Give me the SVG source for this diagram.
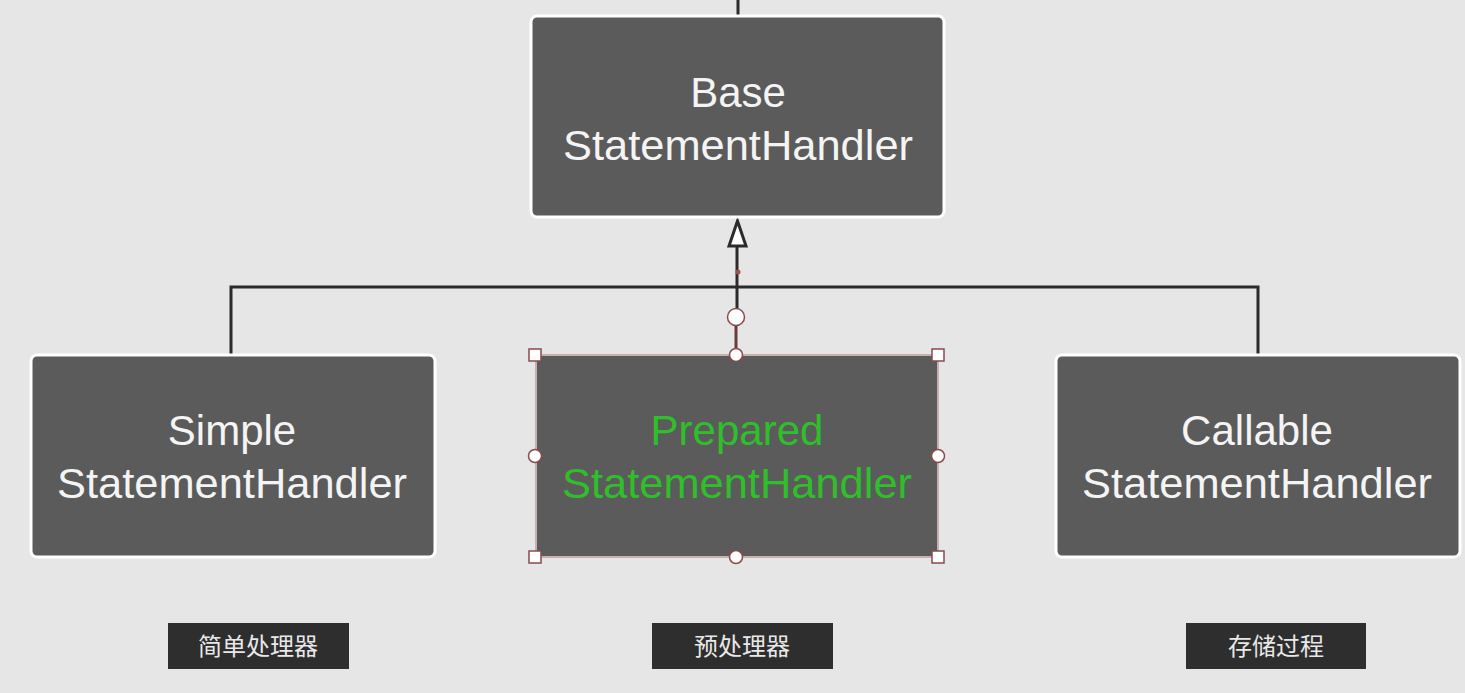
<svg xmlns="http://www.w3.org/2000/svg" width="1465" height="693" viewBox="0 0 1465 693">
<defs>
<style>
.box{fill:#5b5b5b;stroke:#ffffff;stroke-width:3}
.t{font-family:"Liberation Sans","Noto Sans",Arial,sans-serif;font-size:42px;fill:#f4f4f4;text-anchor:middle}
.g{fill:#2fbf2a}
.lbl{fill:#2e2e2e}
.lt{font-family:"Noto Sans CJK SC","Noto Sans",sans-serif;font-size:24px;fill:#e8e8e8;text-anchor:middle}
.ln{stroke:#2b2b2b;stroke-width:3;fill:none}
.h{fill:#ffffff;stroke:#8a4a4a;stroke-width:1.5}
</style>
</defs>
<rect width="1465" height="693" fill="#e6e6e6"/>
<g id="connectors">
<line class="ln" x1="738" y1="0" x2="738" y2="16"/>
<polyline class="ln" points="231,354 231,287 1258,287 1258,354"/>
<line class="ln" x1="737" y1="317" x2="737" y2="246"/>
<path d="M737.5,221 L746,246 L729,246 Z" fill="#ffffff" stroke="#2b2b2b" stroke-width="3"/>
<line x1="736" y1="325" x2="736" y2="350" stroke="#6a3a3a" stroke-width="3"/>
<circle cx="738" cy="272" r="2.5" fill="#9a5050"/>
</g>
<g id="base">
<rect class="box" x="531" y="16" width="413" height="201" rx="6"/>
<text class="t" x="738" y="107">Base</text>
<text class="t" x="738" y="160" textLength="350" lengthAdjust="spacingAndGlyphs">StatementHandler</text>
</g>
<g id="simple">
<rect class="box" x="31" y="355" width="404" height="202" rx="6"/>
<text class="t" x="232" y="445">Simple</text>
<text class="t" x="232" y="498" textLength="350" lengthAdjust="spacingAndGlyphs">StatementHandler</text>
</g>
<g id="prepared">
<rect x="536" y="355" width="402" height="202" fill="#5b5b5b" stroke="#c9b0b0" stroke-width="2"/>
<text class="t g" x="737" y="445">Prepared</text>
<text class="t g" x="737" y="498" textLength="350" lengthAdjust="spacingAndGlyphs">StatementHandler</text>
<rect class="h" x="529" y="349" width="12" height="12"/>
<rect class="h" x="932" y="349" width="12" height="12"/>
<rect class="h" x="529" y="551" width="12" height="12"/>
<rect class="h" x="932" y="551" width="12" height="12"/>
<circle class="h" cx="736" cy="355" r="6.5"/>
<circle class="h" cx="736" cy="557" r="6.5"/>
<circle class="h" cx="535" cy="456" r="6.5"/>
<circle class="h" cx="938" cy="456" r="6.5"/>
<circle class="h" cx="736" cy="317" r="8.5"/>
</g>
<g id="callable">
<rect class="box" x="1056" y="355" width="404" height="202" rx="6"/>
<text class="t" x="1257" y="445">Callable</text>
<text class="t" x="1257" y="498" textLength="350" lengthAdjust="spacingAndGlyphs">StatementHandler</text>
</g>
<g id="label-simple">
<rect class="lbl" x="168" y="623" width="181" height="46"/>
<text class="lt" x="258" y="655">简单处理器</text>
</g>
<g id="label-prepared">
<rect class="lbl" x="652" y="623" width="181" height="46"/>
<text class="lt" x="742" y="655">预处理器</text>
</g>
<g id="label-callable">
<rect class="lbl" x="1186" y="623" width="180" height="46"/>
<text class="lt" x="1276" y="655">存储过程</text>
</g>
</svg>
